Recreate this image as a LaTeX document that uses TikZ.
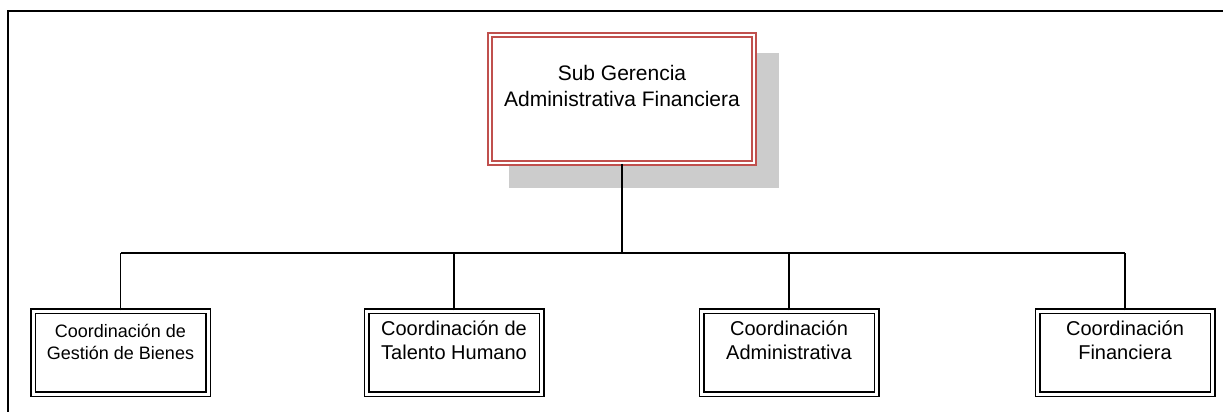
\documentclass[tikz,border=0pt]{standalone}
\usepackage{fontspec}
\setmainfont{Liberation Sans}
\usetikzlibrary{positioning}
\definecolor{boxred}{RGB}{192,80,77}
\tikzstyle{headbox} = [rectangle, draw=boxred, double, line width=0.8pt, double distance=1.4pt, fill=white, minimum width=132pt, minimum height=64pt, inner sep=0pt, align=center, font=\fontsize{10.5pt}{13pt}\selectfont]
\tikzstyle{unitbox} = [rectangle, draw=black, double, line width=0.75pt, double distance=1.5pt, fill=white, minimum width=87.5pt, minimum height=41.5pt, inner sep=0pt, align=center, font=\fontsize{10pt}{12pt}\selectfont]
\tikzstyle{smallunit} = [unitbox, font=\fontsize{9pt}{10.8pt}\selectfont]
\tikzstyle{shade} = [fill=gray!40]
\tikzstyle{frame} = [line width=1pt]
\tikzstyle{bus} = [line width=1pt]
\tikzstyle{drop} = [line width=0.75pt]

\begin{document}
\begin{tikzpicture}[x=0.5pt, y=-0.5pt]
\useasboundingbox (0,0) rectangle (1223,412);
\draw [frame] (8,412) -- (8,11) -- (1223,11);
\fill [shade] (509,53) rectangle (779,188);
\node (subgerencia) [headbox] at (622,99) {Sub Gerencia\\Administrativa Financiera\\\mbox{}};
\node (bienes) [smallunit] at (120.5,352.5) {Coordinación de\\Gestión de Bienes\\\mbox{}};
\node (talento) [unitbox] at (454,352.5) {Coordinación de\\Talento Humano\\\mbox{}};
\node (administrativa) [unitbox] at (789,352.5) {Coordinación\\Administrativa\\\mbox{}};
\node (financiera) [unitbox] at (1125,352.5) {Coordinación\\Financiera\\\mbox{}};
\coordinate (split) at (622,253);

\draw [bus] (subgerencia.south) -- (split);
\draw [bus] (bienes.north |- split) -- (financiera.north |- split);
\draw [drop] (bienes.north) -- (bienes.north |- split);
\draw [drop] (talento.north) -- (talento.north |- split);
\draw [drop] (administrativa.north) -- (administrativa.north |- split);
\draw [drop] (financiera.north) -- (financiera.north |- split);
\end{tikzpicture}
\end{document}
